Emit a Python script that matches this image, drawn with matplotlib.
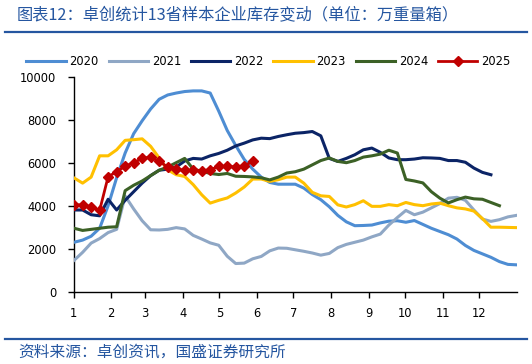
import numpy as np
import pandas as pd
import matplotlib
matplotlib.use("Agg")
import matplotlib.pyplot as plt
import matplotlib.dates as mdates
from matplotlib.lines import Line2D
from matplotlib.ticker import FuncFormatter, MultipleLocator

plt.rcParams['font.family'] = ['DejaVu Sans']
_CJK = ['Noto Sans CJK SC', 'DejaVu Sans']
_BLUE = '#2556A0'

# weekly inventory, 万重量箱
series_2020 = [2300, 2400, 2580, 2950, 4000, 5300, 6450, 7350, 7950, 8500,
               8950, 9150, 9240, 9310, 9340, 9340, 9240, 8400, 7500, 6800,
               6150, 5700, 5330, 5080, 5000, 5000, 5000, 4820, 4520, 4280,
               3950, 3550, 3250, 3070, 3080, 3100, 3200, 3280, 3300, 3230,
               3310, 3130, 2950, 2800, 2650, 2450, 2150, 1920, 1760, 1600,
               1400, 1270, 1250]
series_2021 = [1460, 1830, 2260, 2470, 2750, 2900, 4450, 3850, 3300, 2880,
               2870, 2900, 2980, 2920, 2620, 2450, 2270, 2160, 1650, 1310,
               1330, 1530, 1640, 1900, 2030, 2020, 1950, 1880, 1800, 1700,
               1780, 2050, 2200, 2300, 2400, 2550, 2680, 3100, 3450, 3780,
               3580, 3700, 3900, 4100, 4350, 4390, 4250, 3800, 3380, 3270,
               3350, 3480, 3550]
series_2022 = [3800, 3800, 3580, 3530, 4300, 3800, 4250, 4650, 5050, 5400,
               5650, 5700, 5800, 6080, 6200, 6170, 6320, 6430, 6580, 6780,
               6910, 7060, 7140, 7120, 7220, 7300, 7370, 7400, 7450, 7250,
               6200, 6060, 6200, 6370, 6600, 6680, 6480, 6220, 6140, 6140,
               6170, 6230, 6220, 6200, 6100, 6100, 6020, 5750, 5550, 5440]
series_2023 = [5290, 5050, 5330, 6320, 6320, 6600, 7040, 7070, 7110, 6760,
               6220, 5670, 5440, 5360, 4980, 4510, 4120, 4250, 4360, 4590,
               4870, 5240, 5240, 5130, 5210, 5330, 5330, 5050, 4620, 4460,
               4430, 4040, 3940, 4050, 4230, 3970, 3970, 4050, 4000, 4150,
               4050, 4000, 4080, 4120, 4000, 3900, 3850, 3750, 3400, 3000,
               3000, 2990, 2980]
series_2024 = [2950, 2850, 2900, 2950, 3000, 3020, 4700, 4950, 5150, 5400,
               5650, 5800, 6000, 6200, 5700, 5600, 5500, 5450, 5500, 5370,
               5360, 5340, 5300, 5200, 5330, 5520, 5580, 5700, 5900, 6100,
               6220, 6060, 6000, 6100, 6260, 6320, 6400, 6580, 6450, 5220,
               5150, 5060, 4650, 4350, 4130, 4280, 4400, 4320, 4300, 4150,
               4000]
series_2025 = [4040, 4040, 3940, 3780, 5350, 5580, 5840, 6000, 6200, 6260,
               6060, 5800, 5700, 5640, 5640, 5630, 5670, 5830, 5830, 5800,
               5860, 6060]

years = ['2020', '2021', '2022', '2023', '2024', '2025']
colors = ['#4E8DD3', '#8FA7C5', '#0B2466', '#FFC000', '#3C6126', '#C00000']
all_series = [series_2020, series_2021, series_2022,
              series_2023, series_2024, series_2025]

fig = plt.figure(figsize=(5.32, 3.64), dpi=100)
ax = fig.add_axes([73.5 / 532, 1 - 291.7 / 364, (517 - 73.5) / 532, (291.7 - 76.7) / 364])

# all years drawn on one common calendar year
for yr, col, vals in zip(years, colors, all_series):
    dates = pd.date_range("2023-01-01 12:00", periods=len(vals), freq="7D")
    if yr == '2025':
        ax.plot(dates, vals, color=col, lw=2.0, marker='D', ms=5.6,
                label=yr, zorder=5)
    else:
        ax.plot(dates, vals, color=col, lw=2.2, label=yr,
                solid_joinstyle='round', zorder=3)

ax.set_xlim(pd.Timestamp("2023-01-01"), pd.Timestamp("2023-12-31 23:00"))
ax.set_ylim(0, 10000)
ax.yaxis.set_major_locator(MultipleLocator(2000))
ax.xaxis.set_major_locator(mdates.MonthLocator())
ax.xaxis.set_major_formatter(FuncFormatter(lambda v, p: str(mdates.num2date(v).month)))

for s in ['top', 'right']:
    ax.spines[s].set_visible(False)
for s in ['left', 'bottom']:
    ax.spines[s].set_linewidth(1.0)
    ax.spines[s].set_color('black')
ax.tick_params(axis='both', direction='out', length=4, width=1.0,
               labelsize=8.3, colors='black')
ax.tick_params(axis='y', pad=8.5)
ax.tick_params(axis='x', pad=7)

fig.legend(loc='center', bbox_to_anchor=(268.5 / 532, 1 - 61.5 / 364), ncol=6,
           frameon=False, fontsize=8.3, handlelength=3.4, handletextpad=0.35,
           columnspacing=0.85, borderaxespad=0)

fig.text(17 / 532, 1 - 14.5 / 364,
         "图表12：卓创统计13省样本企业库存变动（单位：万重量箱）",
         family=_CJK, fontsize=11.7, color=_BLUE, va='center', ha='left')
fig.text(18.5 / 532, 1 - 352 / 364, "资料来源：卓创资讯，国盛证券研究所",
         family=_CJK, fontsize=11.3, color=_BLUE, va='center', ha='left')

fig.add_artist(Line2D([5 / 532, 527 / 532], [1 - 31.5 / 364] * 2,
                      color=_BLUE, lw=1.6, transform=fig.transFigure))
fig.add_artist(Line2D([5 / 532, 527 / 532], [1 - 339 / 364] * 2,
                      color=_BLUE, lw=1.6, transform=fig.transFigure))

fig.savefig("out.png", dpi=100)
